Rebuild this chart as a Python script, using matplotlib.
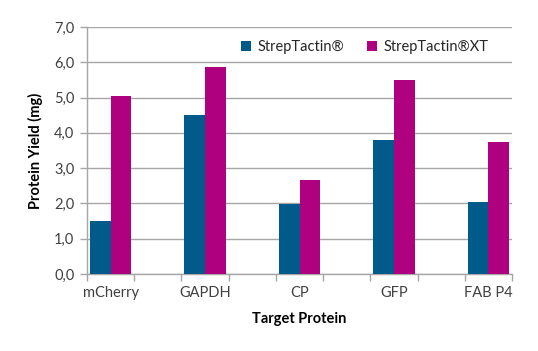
import numpy as np
import matplotlib.pyplot as plt
from matplotlib.ticker import FixedLocator, FuncFormatter

plt.rcParams['font.family'] = ['Lato', 'DejaVu Sans']

# Daten
proteins = ['mCherry', 'GAPDH', 'CP', 'GFP', 'FAB P4']
strep = [1.50, 4.52, 1.97, 3.80, 2.04]
strep_xt = [5.04, 5.88, 2.65, 5.50, 3.73]

blue = '#005A8A'
magenta = '#AF0080'
grey = '#A6A6A6'

fig = plt.figure(figsize=(5.38, 3.51), dpi=100)
ax = fig.add_axes([0.1617, 0.2194, 0.79, 0.7036])

# every real category sits on an even slot, empty slots in between
pos = np.arange(len(proteins)) * 2
w = 0.44
ax.bar(pos - w / 2, strep, w, color=blue, label='StrepTactin®', zorder=3)
ax.bar(pos + w / 2, strep_xt, w, color=magenta, label='StrepTactin®XT', zorder=3)

ax.set_xlim(-0.5, pos[-1] + 0.5)
ax.set_ylim(0, 7)
ax.set_yticks(np.arange(0, 7.1, 1))
ax.yaxis.set_major_formatter(FuncFormatter(lambda v, p: f'{v:.1f}'.replace('.', ',')))
ax.set_xticks(pos)
ax.set_xticklabels(proteins)
ax.xaxis.set_minor_locator(FixedLocator(np.arange(-0.5, pos[-1] + 1, 1)))
ax.tick_params(axis='x', which='major', length=0, pad=9, labelsize=10.5, colors='#404040')
ax.tick_params(axis='x', which='minor', length=5, width=1, color=grey)
ax.tick_params(axis='y', length=5, width=1, color=grey, labelsize=10.5, labelcolor='#404040', pad=4)

ax.grid(axis='y', color=grey, linewidth=1, zorder=0)
for s in ['top', 'right']:
    ax.spines[s].set_visible(False)
for s in ['left', 'bottom']:
    ax.spines[s].set_color(grey)
    ax.spines[s].set_linewidth(1)

ax.set_ylabel('Protein Yield (mg)', fontsize=10.5, fontweight='bold', labelpad=8)
ax.set_xlabel('Target Protein', fontsize=10.5, fontweight='bold', labelpad=8)

ax.legend(loc='upper right', bbox_to_anchor=(0.975, 1.0), ncol=2, frameon=False,
          fontsize=10.5, handlelength=0.7, handleheight=0.7, columnspacing=1.6,
          handletextpad=0.4, labelcolor='#262626')

fig.savefig('out.png', dpi=100)
